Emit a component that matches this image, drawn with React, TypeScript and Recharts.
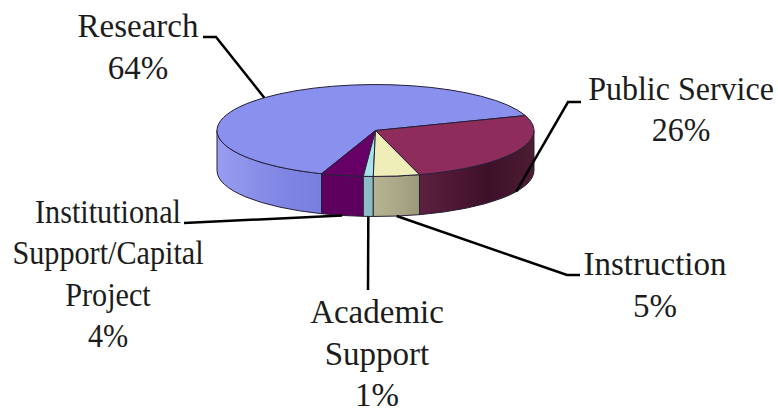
import React from 'react';
import { PieChart, Pie } from 'recharts';

const categories = ['Research', 'Institutional Support/Capital Project', 'Academic Support', 'Instruction', 'Public Service'];
const shares = [64.2, 4.3, 1.0, 4.7, 25.8];

const data = categories.map((name, i) => ({ name, value: shares[i] }));

// Faces of the slices, same order as categories
const TOP_COLORS = ['#8a90ee', '#660066', '#a8e2ea', '#f0eeb8', '#8e2c5c'];
const WALL_STOPS = [
  ['#989df0', '#8086e4', '#787edf'],
  ['#5e005e', '#5e005e', '#5e005e'],
  ['#8cbcc4', '#8cbcc4', '#8cbcc4'],
  ['#b6b490', '#a8a686', '#999878'],
  ['#5e2040', '#3e1028', '#4c1c32'],
];
const OUTLINE = '#26203a';
const TEXT_COLOR = '#1c1c1c';

const WIDTH = 778;
const HEIGHT = 414;
const RX = 158.5;
const TILT = 0.29;
const DEPTH = 40;
const CX = 375.5;
const CY = 130.5;

// Label text blocks and the elbow of each leader line
const LABEL_LAYOUT = [
  { lines: ['Research'], x: 138, y: 37, squeeze: 1, elbow: [[216, 37], [203, 37]], onWall: false },
  { lines: ['Institutional', 'Support/Capital', 'Project'], x: 108, y: 223, squeeze: 0.915, elbow: [[184, 223]], onWall: true },
  { lines: ['Academic', 'Support'], x: 377, y: 323, squeeze: 1, elbow: [[368, 290]], onWall: true },
  { lines: ['Instruction'], x: 655, y: 275, squeeze: 1, elbow: [[567, 275], [580, 275]], onWall: true },
  { lines: ['Public Service'], x: 681, y: 100, squeeze: 0.97, elbow: [[568, 102], [581, 102]], onWall: true },
];

const rimPoint = (angle: number, rx: number, dy = 0) => {
  const rad = (angle * Math.PI) / 180;
  return [CX + rx * Math.cos(rad), CY - rx * TILT * Math.sin(rad) + dy];
};

const SliceShape = (props: any) => {
  const { startAngle, endAngle, outerRadius, index } = props;
  const ry = outerRadius * TILT;
  const [x0, y0] = rimPoint(startAngle, outerRadius);
  const [x1, y1] = rimPoint(endAngle, outerRadius);
  const large = endAngle - startAngle > 180 ? 1 : 0;
  const top = `M${CX},${CY}L${x0},${y0}A${outerRadius},${ry} 0 ${large} 0 ${x1},${y1}Z`;

  // only the part facing the viewer gets a wall
  const wallStart = Math.max(startAngle, 180);
  const wallEnd = Math.min(endAngle, 360);
  let wall = null;
  if (wallEnd > wallStart) {
    const [wx0, wy0] = rimPoint(wallStart, outerRadius);
    const [wx1, wy1] = rimPoint(wallEnd, outerRadius);
    const d =
      `M${wx0},${wy0}A${outerRadius},${ry} 0 0 0 ${wx1},${wy1}` +
      `L${wx1},${wy1 + DEPTH}A${outerRadius},${ry} 0 0 1 ${wx0},${wy0 + DEPTH}Z`;
    wall = (
      <>
        <defs>
          <linearGradient id={`wall-${index}`} gradientUnits="userSpaceOnUse" x1={wx0} y1="0" x2={wx1} y2="0">
            <stop offset="0" stopColor={WALL_STOPS[index][0]} />
            <stop offset="0.6" stopColor={WALL_STOPS[index][1]} />
            <stop offset="1" stopColor={WALL_STOPS[index][2]} />
          </linearGradient>
        </defs>
        <path d={d} fill={`url(#wall-${index})`} stroke={OUTLINE} strokeWidth={1} />
      </>
    );
  }

  return (
    <g>
      {wall}
      <path d={top} fill={TOP_COLORS[index]} stroke={OUTLINE} strokeWidth={1} />
    </g>
  );
};

const SliceLabel = (props: any) => {
  const { index, midAngle, outerRadius, percent } = props;
  const layout = LABEL_LAYOUT[index];
  const anchor = rimPoint(midAngle, outerRadius, layout.onWall ? DEPTH : 0);
  const points = [anchor, ...layout.elbow].map((p) => p.join(',')).join(' ');
  const lines = [...layout.lines, `${Math.round(percent * 100)}%`];
  return (
    <g>
      <polyline points={points} fill="none" stroke="#000" strokeWidth={2.5} />
      <text
        transform={`translate(${layout.x} ${layout.y}) scale(${layout.squeeze} 1)`}
        textAnchor="middle"
        fontFamily="'Liberation Serif', serif"
        fontSize={33}
        fill={TEXT_COLOR}
      >
        {lines.map((line, i) => (
          <tspan key={line} x={0} dy={i === 0 ? 0 : 41.5}>
            {line}
          </tspan>
        ))}
      </text>
    </g>
  );
};

export default function App() {
  return (
    <div style={{ position: 'absolute', left: 0, top: 0, width: WIDTH, height: HEIGHT, background: '#fff' }}>
      <PieChart width={WIDTH} height={HEIGHT} margin={{ top: 0, right: 0, bottom: 0, left: 0 }}>
        <Pie
          data={data}
          dataKey="value"
          nameKey="name"
          cx={CX}
          cy={CY}
          innerRadius={0}
          outerRadius={RX}
          startAngle={19}
          endAngle={379}
          paddingAngle={0}
          stroke="none"
          shape={SliceShape}
          label={SliceLabel}
          labelLine={false}
          isAnimationActive={false}
        />
      </PieChart>
    </div>
  );
}
